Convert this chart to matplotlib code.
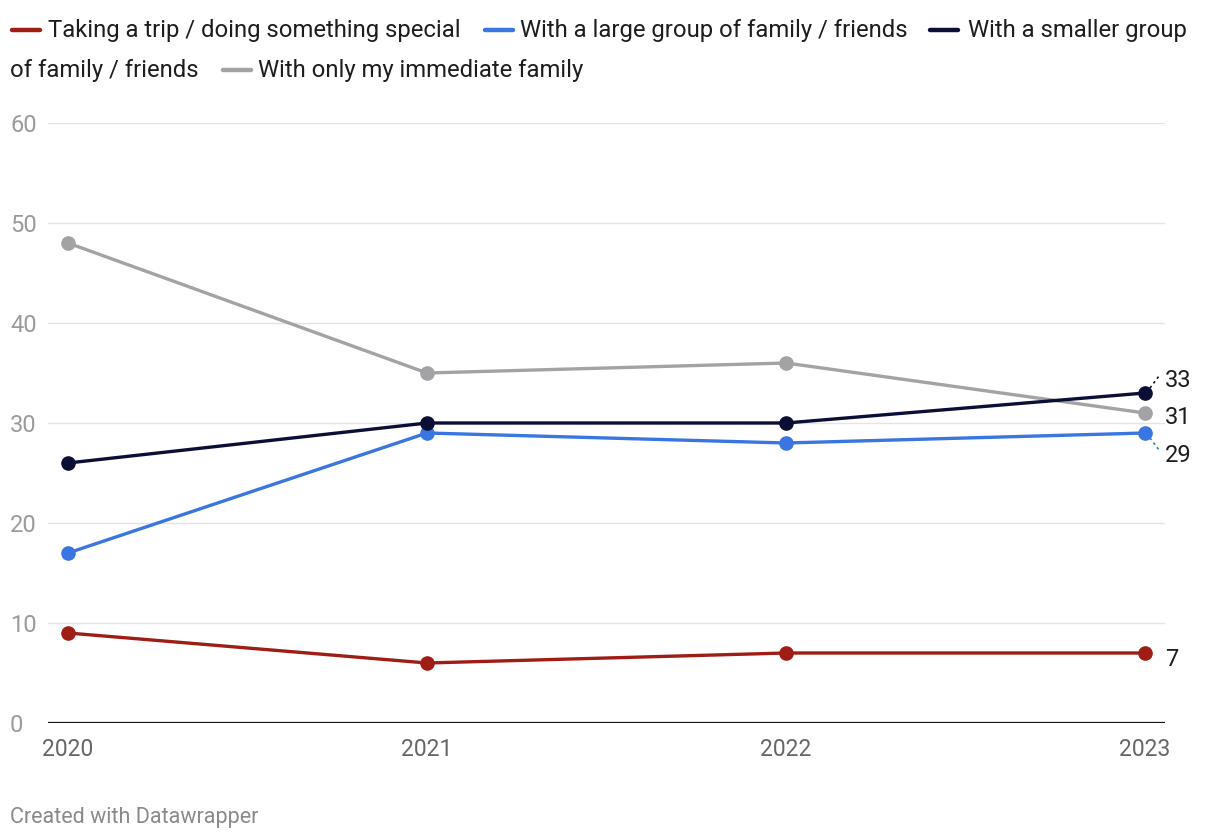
import matplotlib
matplotlib.use("Agg")
import matplotlib.pyplot as plt
from matplotlib.lines import Line2D

plt.rcParams['font.family'] = ['Roboto', 'DejaVu Sans']

years = [2020, 2021, 2022, 2023]
series_names = [
    "Taking a trip / doing something special",
    "With a large group of family / friends",
    "With a smaller group of family / friends",
    "With only my immediate family",
]
trip = [9, 6, 7, 7]
large_group = [17, 29, 28, 29]
small_group = [26, 30, 30, 33]
immediate = [48, 35, 36, 31]
y_ticks = [0, 10, 20, 30, 40, 50, 60]

colors = {
    "trip": "#9f1d15",
    "large": "#3a76e2",
    "small": "#0b0f35",
    "immediate": "#a3a3a5",
}

W, H = 1220, 840
fig = plt.figure(figsize=(W / 100, H / 100), dpi=100)
ax = fig.add_axes([48 / W, 1 - 723 / H, (1165 - 48) / W, 600 / H])

pad = 20 / 359
ax.set_xlim(2020 - pad, 2023 + pad)
ax.set_ylim(0, 60)

for t in y_ticks[1:]:
    ax.axhline(t, color="#e4e4e4", lw=1, zorder=0)
ax.axhline(0, color="#111111", lw=1.6, zorder=1)

# gray first so the navy line crosses over it
order = [
    (immediate, colors["immediate"]),
    (trip, colors["trip"]),
    (large_group, colors["large"]),
    (small_group, colors["small"]),
]
for vals, c in order:
    ax.plot(years, vals, color=c, lw=2.4, marker="o", markersize=9.5,
            solid_capstyle="round", zorder=3, clip_on=False)

for s in ax.spines.values():
    s.set_visible(False)
ax.set_xticks([])
ax.set_yticks([])

# y tick labels, left aligned at the figure edge
for t in y_ticks:
    yy = ax.transData.transform((0, t))[1] / H
    fig.text(10 / W, yy, str(t), ha="left", va="center_baseline", fontsize=17,
             color="#9b9b9b")

# x tick labels
for yr in years:
    ax.annotate(str(yr), xy=(yr, 0), xycoords="data", xytext=(0, -26),
                textcoords="offset pixels", ha="center", va="center",
                fontsize=16.5, color="#666666", annotation_clip=False)

# end labels (offsets in pixels from the 2023 point)
end_labels = [
    (small_group[-1], 13, True),
    (immediate[-1], -4, False),
    (large_group[-1], -22, True),
    (trip[-1], -6, False),
]
for v, dy, leader in end_labels:
    ax.annotate(str(v), xy=(2023, v), xycoords="data",
                xytext=(20, dy), textcoords="offset pixels",
                ha="left", va="center", fontsize=17, color="#1d1d1d",
                annotation_clip=False)
lead_col = {small_group[-1]: colors["small"], large_group[-1]: colors["large"]}
for v, dy, leader in end_labels:
    if leader:
        x0, y0 = ax.transData.transform((2023, v))
        sgn = 1 if dy > 0 else -1
        ax.add_line(Line2D([x0 + 5, x0 + 14], [y0 + sgn * 5, y0 + sgn * 17],
                           transform=None, color=lead_col[v], lw=1.2,
                           linestyle=(0, (1.5, 2)), clip_on=False))

# legend, laid out like the original (wraps inside the third entry)
def legend_key(x, y, c):
    fig.add_artist(Line2D([x / W, (x + 28) / W], [1 - y / H, 1 - y / H],
                          color=c, lw=3.2, solid_capstyle="round"))

def legend_text(x, y, s):
    fig.text(x / W, 1 - y / H, s, ha="left", va="center", fontsize=17.2,
             color="#1d1d1d")

legend_key(12, 30, colors["trip"])
legend_text(48, 30, series_names[0])
legend_key(485, 30, colors["large"])
legend_text(520, 30, series_names[1])
legend_key(930, 30, colors["small"])
legend_text(968, 30, "With a smaller group")
legend_text(10, 70, "of family / friends")
legend_key(223, 70, colors["immediate"])
legend_text(258, 70, series_names[3])

fig.text(10 / W, 1 - 817 / H, "Created with Datawrapper", ha="left",
         va="center", fontsize=15.5, color="#8a8a8a")

fig.savefig("out.png", dpi=100, facecolor="white")
